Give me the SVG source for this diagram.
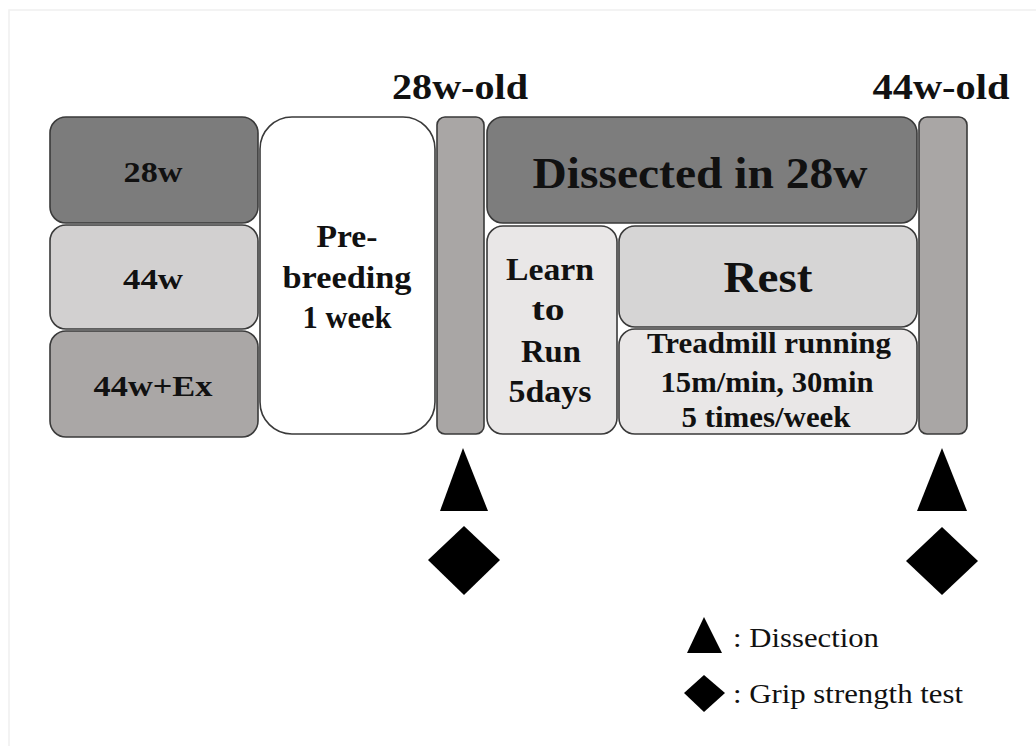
<svg xmlns="http://www.w3.org/2000/svg" width="1036" height="746" viewBox="0 0 1036 746">
<style>
.box{stroke:#3a3a3a;stroke-width:1.6}
.b{font-family:"Liberation Serif","Times New Roman",serif;font-weight:bold;fill:#111;text-anchor:middle}
.r{font-family:"Liberation Serif","Times New Roman",serif;fill:#111}
.mk{fill:#000}
</style>
<rect x="0" y="0" width="1036" height="746" fill="#fff"/>
<rect x="9" y="10" width="1040" height="750" fill="none" stroke="#f0f0f0" stroke-width="1.5"/>
<g id="headers">
<text class="b" x="460" y="99" font-size="35" textLength="136" lengthAdjust="spacingAndGlyphs">28w-old</text>
<text class="b" x="941" y="99" font-size="35" textLength="137" lengthAdjust="spacingAndGlyphs">44w-old</text>
</g>
<g id="n28w"><rect class="box" x="50" y="117" width="208" height="106" rx="16" fill="#7c7c7c"/>
<text class="b" x="153" y="182" font-size="30" textLength="59" lengthAdjust="spacingAndGlyphs">28w</text></g>
<g id="n44w"><rect class="box" x="50" y="225" width="208" height="104" rx="16" fill="#d2d0d0"/>
<text class="b" x="153" y="289" font-size="30" textLength="60" lengthAdjust="spacingAndGlyphs">44w</text></g>
<g id="n44wex"><rect class="box" x="50" y="331" width="208" height="106" rx="16" fill="#aaa7a6"/>
<text class="b" x="153" y="396" font-size="30" textLength="119" lengthAdjust="spacingAndGlyphs">44w+Ex</text></g>
<g id="prebreeding"><rect class="box" x="260" y="117" width="175" height="317" rx="32" fill="#ffffff"/>
<text class="b" x="347" y="247" font-size="31" textLength="61" lengthAdjust="spacingAndGlyphs">Pre-</text>
<text class="b" x="347" y="288" font-size="31" textLength="129" lengthAdjust="spacingAndGlyphs">breeding</text>
<text class="b" x="347" y="328" font-size="31" textLength="89" lengthAdjust="spacingAndGlyphs">1 week</text></g>
<g id="bar28"><rect class="box" x="437" y="117" width="47" height="317" rx="8" fill="#a9a6a5"/></g>
<g id="dissected"><rect class="box" x="487" y="117" width="430" height="106" rx="16" fill="#7d7d7d"/>
<text class="b" x="700" y="188" font-size="45" textLength="335" lengthAdjust="spacingAndGlyphs">Dissected in 28w</text></g>
<g id="learn"><rect class="box" x="487" y="226" width="130" height="208" rx="16" fill="#e9e7e7"/>
<text class="b" x="550" y="280" font-size="32" textLength="88" lengthAdjust="spacingAndGlyphs">Learn</text>
<text class="b" x="548" y="320" font-size="32" textLength="33" lengthAdjust="spacingAndGlyphs">to</text>
<text class="b" x="551" y="362" font-size="32" textLength="60" lengthAdjust="spacingAndGlyphs">Run</text>
<text class="b" x="550" y="402" font-size="32" textLength="83" lengthAdjust="spacingAndGlyphs">5days</text></g>
<g id="rest"><rect class="box" x="619" y="226" width="298" height="101" rx="16" fill="#d6d5d5"/>
<text class="b" x="768" y="292" font-size="45" textLength="89" lengthAdjust="spacingAndGlyphs">Rest</text></g>
<g id="treadmill"><rect class="box" x="619" y="329" width="298" height="105" rx="16" fill="#e9e7e7"/>
<text class="b" x="769" y="353" font-size="29" textLength="244" lengthAdjust="spacingAndGlyphs">Treadmill running</text>
<text class="b" x="767" y="392" font-size="29" textLength="213" lengthAdjust="spacingAndGlyphs">15m/min, 30min</text>
<text class="b" x="766" y="427" font-size="29" textLength="169" lengthAdjust="spacingAndGlyphs">5 times/week</text></g>
<g id="bar44"><rect class="box" x="919" y="117" width="48" height="317" rx="8" fill="#a9a6a5"/></g>
<g id="connectors"></g>
<g id="markers">
<polygon class="mk" points="463,448 488,511 440,511"/>
<polygon class="mk" points="464,526 500,560 464,595 428,560"/>
<polygon class="mk" points="942,448 967,511 917,511"/>
<polygon class="mk" points="942,527 978,561 942,595 906,561"/>
</g>
<g id="legend">
<polygon class="mk" points="704,617 722,653 687,653"/>
<text class="r" x="733" y="647" font-size="28" textLength="146" lengthAdjust="spacingAndGlyphs">: Dissection</text>
<polygon class="mk" points="704,675 725,693 704,712 684,693"/>
<text class="r" x="733" y="703" font-size="28" textLength="230" lengthAdjust="spacingAndGlyphs">: Grip strength test</text>
</g>
</svg>
